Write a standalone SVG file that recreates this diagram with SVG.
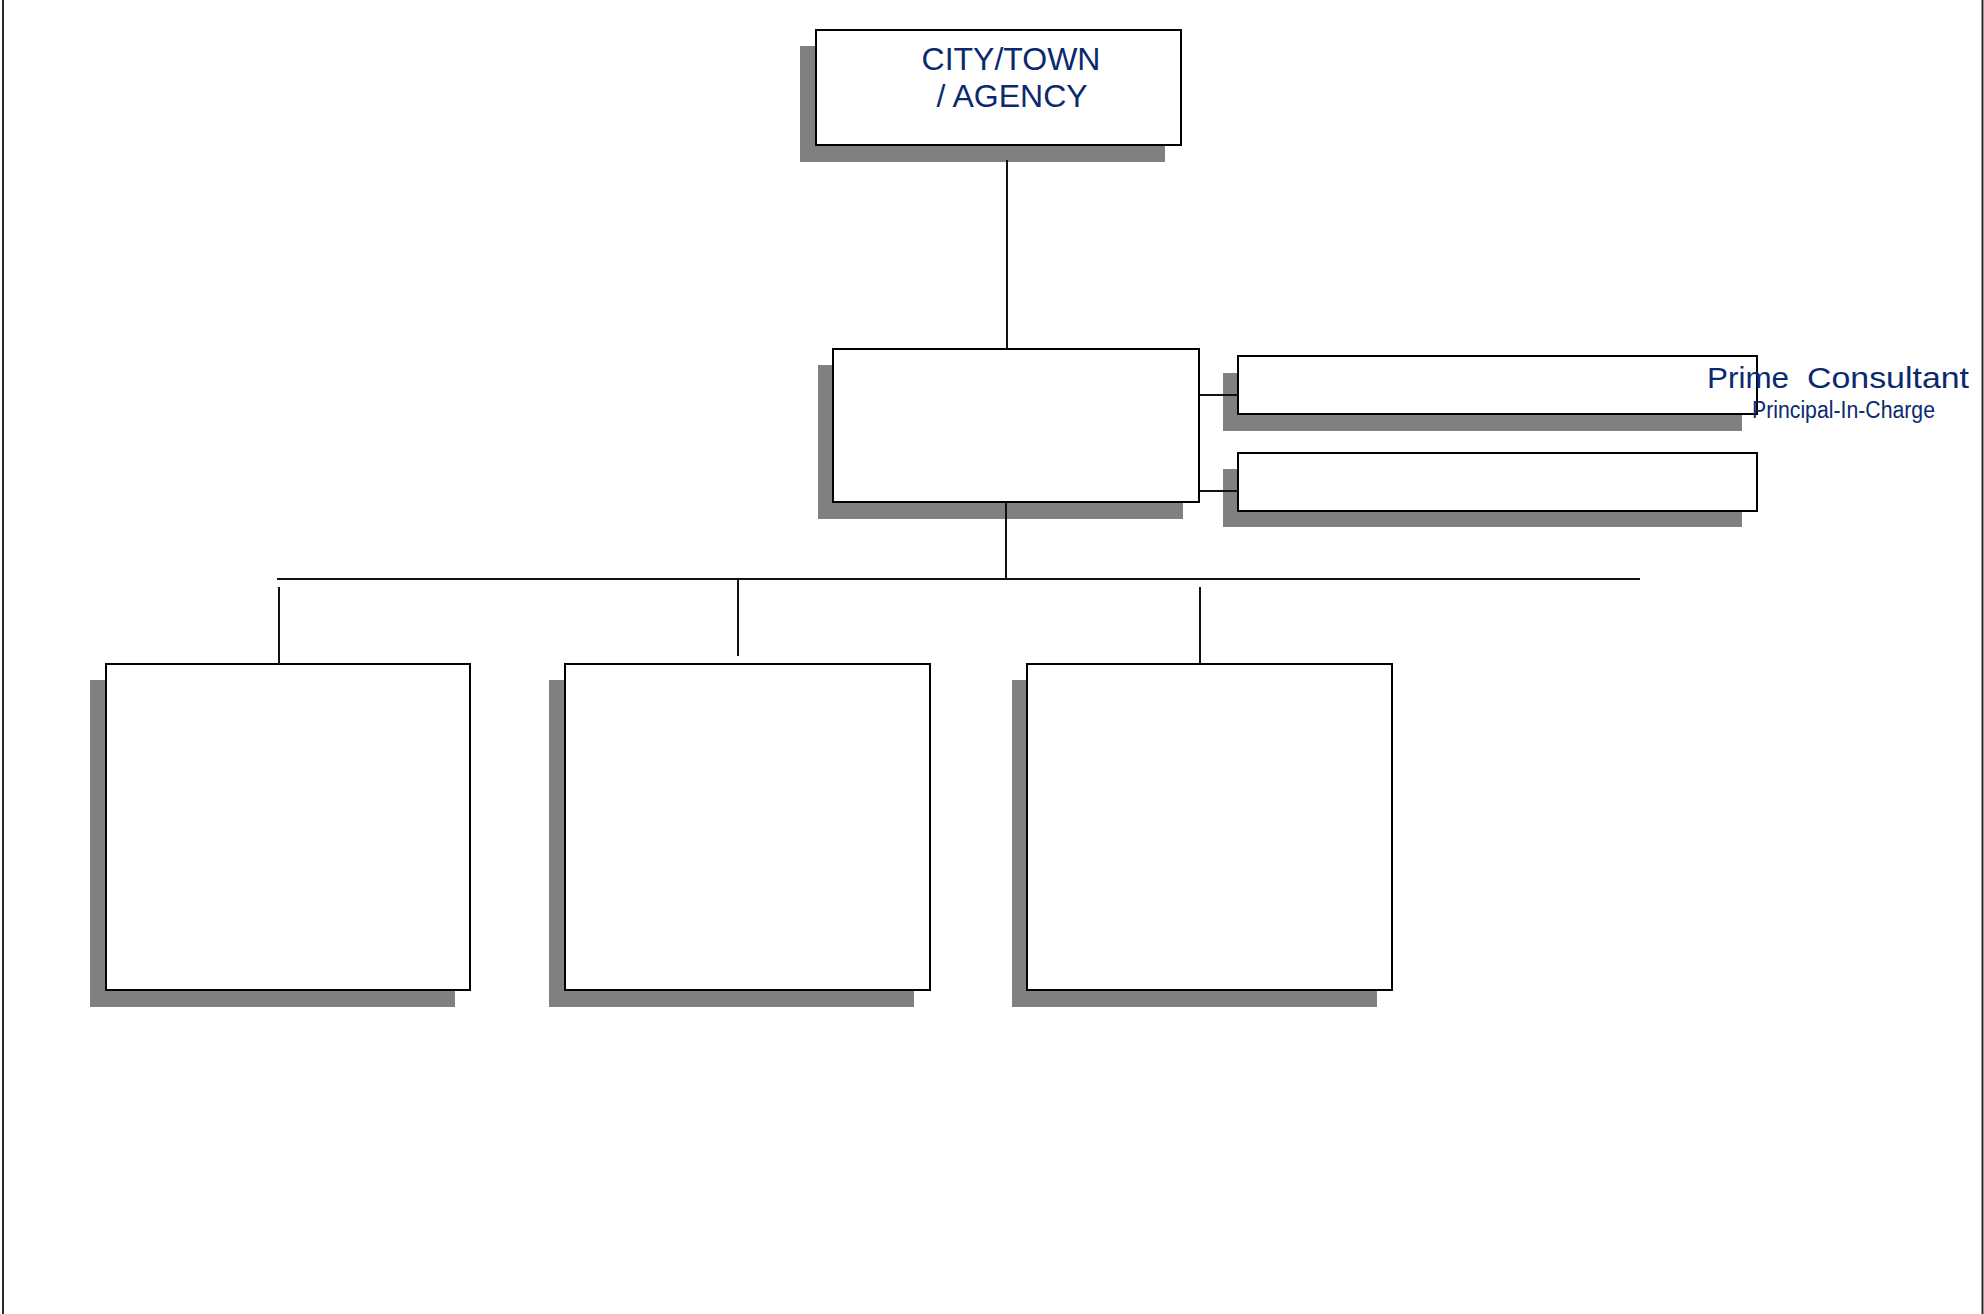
<svg xmlns="http://www.w3.org/2000/svg" width="1984" height="1314" viewBox="0 0 1984 1314">
<style>
.box{fill:#ffffff;stroke:#000000;stroke-width:2}
.shadow{fill:#808080;stroke:none}
.conn{stroke:#111111;stroke-width:2;fill:none}
.border{stroke:#2a2a2a;stroke-width:2}
.t{font-family:"Liberation Sans",Arial,sans-serif;fill:#0b2a6e}
</style>
<rect x="0" y="0" width="1984" height="1314" fill="#ffffff"/>
<line class="border" x1="3" y1="0" x2="3" y2="1314"/>
<line class="border" x1="1982.5" y1="0" x2="1982.5" y2="1314"/>
<g id="node-city">
<rect class="shadow" x="800" y="46" width="365" height="116"/>
<rect class="box" x="816" y="30" width="365" height="115"/>
<text class="t" x="1011" y="70" font-size="32" text-anchor="middle">CITY/TOWN</text>
<text class="t" x="1012" y="107" font-size="32" text-anchor="middle">/ AGENCY</text>
</g>
<g id="node-middle">
<rect class="shadow" x="818" y="365" width="365" height="154"/>
<rect class="box" x="833" y="349" width="366" height="153"/>
</g>
<g id="node-right1">
<rect class="shadow" x="1223" y="373" width="519" height="58"/>
<rect class="box" x="1238" y="356" width="519" height="58"/>
</g>
<g id="node-right2">
<rect class="shadow" x="1223" y="469" width="519" height="58"/>
<rect class="box" x="1238" y="453" width="519" height="58"/>
</g>
<g id="node-bottom1">
<rect class="shadow" x="90" y="680" width="365" height="327"/>
<rect class="box" x="106" y="664" width="364" height="326"/>
</g>
<g id="node-bottom2">
<rect class="shadow" x="549" y="680" width="365" height="327"/>
<rect class="box" x="565" y="664" width="365" height="326"/>
</g>
<g id="node-bottom3">
<rect class="shadow" x="1012" y="680" width="365" height="327"/>
<rect class="box" x="1027" y="664" width="365" height="326"/>
</g>
<g id="connectors">
<line class="conn" x1="1007" y1="160" x2="1007" y2="349"/>
<line class="conn" x1="1006" y1="502" x2="1006" y2="579"/>
<line class="conn" x1="1200" y1="395" x2="1238" y2="395"/>
<line class="conn" x1="1200" y1="491" x2="1238" y2="491"/>
<line class="conn" x1="277" y1="579" x2="1640" y2="579"/>
<line class="conn" x1="279" y1="587" x2="279" y2="664"/>
<line class="conn" x1="738" y1="579" x2="738" y2="656"/>
<line class="conn" x1="1200" y1="587" x2="1200" y2="664"/>
</g>
<g id="label-prime">
<text class="t" x="1707" y="388" font-size="30" textLength="82" lengthAdjust="spacingAndGlyphs">Prime</text>
<text class="t" x="1807" y="388" font-size="30" textLength="162" lengthAdjust="spacingAndGlyphs">Consultant</text>
<text class="t" x="1752" y="418" font-size="23" textLength="183" lengthAdjust="spacingAndGlyphs">Principal-In-Charge</text>
</g>
</svg>
